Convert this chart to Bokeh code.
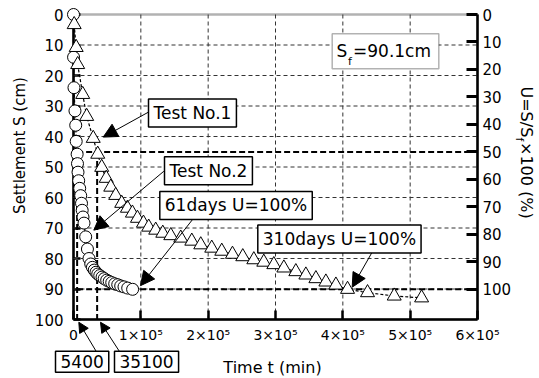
import math
from bokeh.plotting import figure
from bokeh.models import (Range1d, LinearAxis, FixedTicker, Label, Arrow,
                          NormalHead, BoxAnnotation)
from bokeh.embed import file_html
from bokeh.resources import INLINE

# ---------------- data ----------------
# Test No.1 (triangles): time t (min), settlement S (cm)
t_test1 = [1000, 4000, 6200, 13700, 19600, 29300, 36000, 41900, 48600, 55300,
           62700, 71600, 80100, 87500, 95000, 103900, 111700, 122100, 132600, 144500,
           159300, 175700, 189000, 205300, 220200, 236100, 251400, 267800, 282600, 297500,
           312400, 330200, 345100, 360000, 374800, 389700, 407000, 436700, 476300, 517000]
s_test1 = [3.3, 10.8, 16.4, 26.2, 33.4, 40.6, 45.8, 50.1, 53.7, 56.6,
           59.3, 61.9, 63.5, 65.1, 66.8, 68.4, 69.7, 70.7, 71.7, 72.5,
           73.3, 74.3, 75.5, 76.6, 77.6, 78.6, 79.4, 80.4, 81.2, 82.0,
           83.1, 84.3, 85.4, 86.6, 87.7, 88.7, 90.1, 91.2, 92.3, 92.9]

# Test No.2 (circles)
t_test2 = [0, 100, 700, 2200, 3300, 4000, 5400, 5900, 6700, 7700,
           9200, 10700, 11900, 12900, 14100, 15600, 18100, 20700, 23000, 25600,
           28100, 30800, 33400, 36000, 39000, 42400, 45600, 49300, 53000, 56800,
           61200, 65700, 70100, 75000, 80500, 87800]
s_test2 = [0, 14.0, 24.0, 31.6, 36.3, 41.6, 45.8, 48.9, 51.7, 54.5,
           57.0, 59.4, 61.9, 64.2, 66.4, 68.4, 72.9, 76.9, 80.0, 81.8,
           82.9, 83.8, 84.5, 85.1, 85.6, 86.1, 86.6, 87.1, 87.5, 87.9,
           88.3, 88.6, 89.0, 89.3, 89.7, 90.1]

S_F = 90.1                 # final settlement (cm)
T50 = [5400, 35100]        # times to 50 % (min)
T_END = 600000
S_END = 100

x_ticks = [0, 100000, 200000, 300000, 400000, 500000, 600000]
x_tick_labels = ["0", "1×10⁵", "2×10⁵", "3×10⁵", "4×10⁵", "5×10⁵", "6×10⁵"]
s_ticks = [0, 10, 20, 30, 40, 50, 60, 70, 80, 90, 100]
u_ticks = [0, 10, 20, 30, 40, 50, 60, 70, 80, 90, 100]

FONT = "DejaVu Sans"
W, H = 539, 378

# The frame fills the whole page; the axes sit at fixed data locations so that
# markers at t = 0 and S = 0 are not clipped and the boxes below the axis show.
KX = T_END / 404.0      # min per pixel
KY = S_END / 305.0      # cm per pixel
x_range = Range1d(-73 * KX, T_END + 62 * KX)
y_range = Range1d(S_END + 59 * KY, -14 * KY)

p = figure(width=W, height=H, output_backend="svg", toolbar_location=None,
           x_range=x_range, y_range=y_range,
           x_axis_location=None, y_axis_location=None)
p.min_border = 0
p.min_border_left = 0
p.min_border_right = 0
p.min_border_top = 0
p.min_border_bottom = 0
p.outline_line_color = None
p.background_fill_color = "white"
p.border_fill_color = "white"
p.xgrid.visible = False
p.ygrid.visible = False

# frame (top edge)
p.add_layout(BoxAnnotation(left=0, right=T_END, top=0, bottom=S_END,
                           fill_alpha=0, line_color="black", line_width=2.5,
                           level="underlay"))

# grid lines
gx = x_ticks[1:-1]
gy = s_ticks[1:-1]
p.segment(x0=gx, y0=[0] * len(gx), x1=gx, y1=[S_END] * len(gx),
          line_color="#333333", line_width=1, line_dash="4 3")
p.segment(x0=[0] * len(gy), y0=gy, x1=[T_END] * len(gy), y1=gy,
          line_color="#333333", line_width=1, line_dash="4 3")


def style_axis(ax, tick_in, font_size, standoff):
    ax.axis_line_width = 2.5
    ax.axis_line_color = "black"
    ax.major_tick_line_width = 2.5
    ax.major_tick_in = tick_in
    ax.major_tick_out = 0
    ax.minor_tick_line_color = None
    ax.major_label_text_font = FONT
    ax.major_label_text_font_size = font_size
    ax.major_label_text_color = "black"
    ax.major_label_standoff = standoff


xax = LinearAxis(ticker=FixedTicker(ticks=x_ticks), fixed_location=S_END,
                 bounds=(0, T_END))
xax.major_label_overrides = dict(zip(x_ticks, x_tick_labels))
style_axis(xax, 9, "14px", 7)
p.add_layout(xax, "below")

yax = LinearAxis(ticker=FixedTicker(ticks=s_ticks), fixed_location=0,
                 bounds=(0, S_END), level="underlay")
style_axis(yax, 7, "15px", 10)
p.add_layout(yax, "left")

p.extra_y_ranges = {"U": Range1d(start=y_range.start / S_F * 100,
                                 end=y_range.end / S_F * 100)}
uax = LinearAxis(y_range_name="U", ticker=FixedTicker(ticks=u_ticks),
                 fixed_location=T_END, bounds=(0, S_END / S_F * 100))
style_axis(uax, 11, "15px", 5)
uax.major_tick_line_width = 3
p.add_layout(uax, "right")

# reference lines (50 % and 100 %)
p.segment(x0=[T50[0], T50[0]], y0=[S_F / 2, S_F], x1=[T_END, T_END], y1=[S_F / 2, S_F],
          line_color="black", line_width=2, line_dash="6 3")
p.segment(x0=T50, y0=[S_F / 2, S_F / 2], x1=T50, y1=[S_END, S_END],
          line_color="black", line_width=2, line_dash="6 3")

# data
p.line(t_test2, s_test2, line_color="black", line_width=1.2, line_dash="3 2")
p.line(t_test1, s_test1, line_color="black", line_width=1.2, line_dash="3 2")
p.scatter(t_test2, s_test2, marker="circle", size=12, fill_color="white",
          line_color="black", line_width=1)
p.scatter(t_test1, s_test1, marker="triangle", size=14, fill_color="white",
          line_color="black", line_width=1)

# ---------------- annotations ----------------
def text_label(x, y, text, size, angle=0.0, align="left", baseline="middle"):
    p.add_layout(Label(x=x, y=y, text=text, angle=angle, text_font=FONT,
                       text_font_size=size, text_color="black",
                       text_align=align, text_baseline=baseline))


def box_label(x, y, text):
    lab = Label(x=x, y=y, text=text, text_font=FONT, text_font_size="17px",
                text_color="black", text_align="left", text_baseline="top",
                background_fill_color="white", background_fill_alpha=1.0,
                border_line_color="black", border_line_width=1.5,
                padding=dict(left=5, right=5, top=4, bottom=4))
    p.add_layout(lab)


def arrow(x0, y0, x1, y1, size=12):
    p.add_layout(Arrow(end=NormalHead(size=size, fill_color="black", line_color="black"),
                       x_start=x0, y_start=y0, x_end=x1, y_end=y1,
                       line_color="black", line_width=1))


arrow(111390, 32.0, 44110, 40.2, 14)
arrow(134110, 51.4, 30150, 70.7, 14)
arrow(178670, 66.7, 99500, 88.9, 14)
arrow(443610, 77.9, 413910, 89.4, 14)
arrow(35200, 111.0, 7900, 100.9, 10)
arrow(69800, 111.0, 40100, 100.9, 10)

box_label(111390, 27.7, "Test No.1")
box_label(135150, 46.6, "Test No.2")
box_label(128170, 58.0, "61days U=100%")
box_label(273710, 69.0, "310days U=100%")
box_label(-26730, 110.4, "5400")
box_label(60890, 110.4, "35100")

# S_f box
p.add_layout(BoxAnnotation(left=384210, right=542530, top=6.33, bottom=17.8,
                           fill_color="white", fill_alpha=1.0,
                           line_color="black", line_width=1.5))
text_label(390590, 12.0, "S", "17px")
text_label(407670, 15.3, "f", "11px")
text_label(415100, 12.0, "=90.1cm", "17px")

# axis titles
text_label(-78713, 42.95, "Settlement S (cm)", "15px", angle=math.pi / 2, align="center")
text_label(295545, 115.7, "Time t (min)", "16px", align="center")
text_label(672330, 23.6, "U=S/S", "16px", angle=-math.pi / 2)
text_label(663000, 40.3, "f", "11px", angle=-math.pi / 2)
text_label(672330, 41.8, "×100 (%)", "16px", angle=-math.pi / 2)

open("out.html", "w").write(file_html(p, INLINE))
